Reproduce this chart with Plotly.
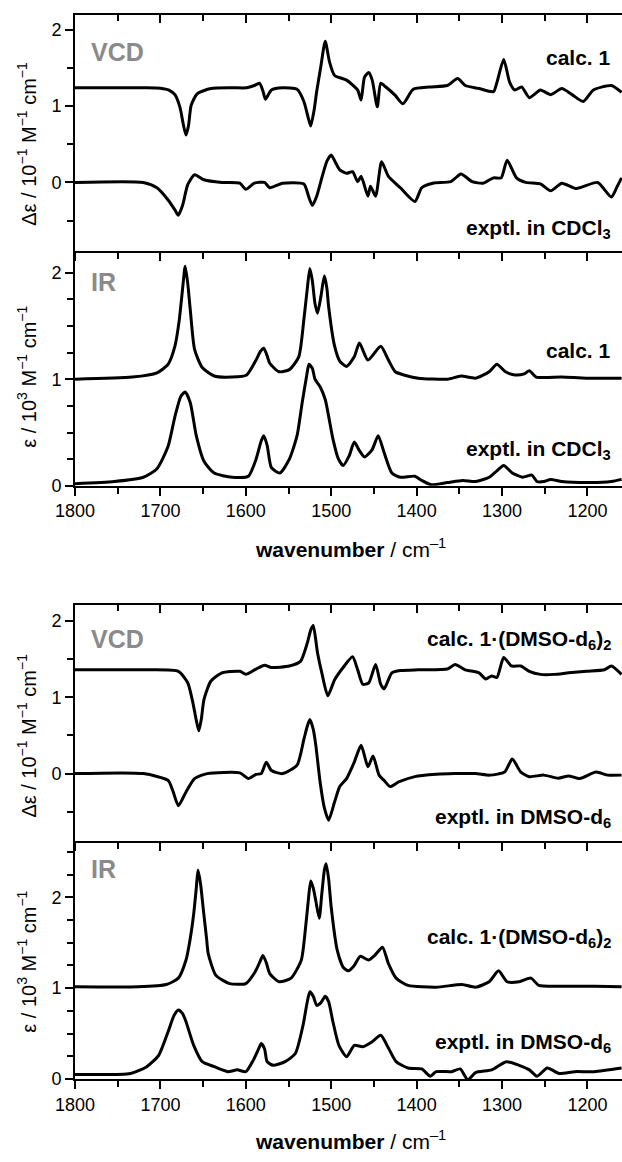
import plotly.graph_objects as go

FONT = "Liberation Sans, Arial, sans-serif"
W, H = 622, 1162
ML = 75

# ---------------- data ----------------
# Panel 1: VCD, calc. 1 (offset) and exptl. in CDCl3
wn_vcd_calc1 = [1800, 1720, 1700, 1690, 1683, 1677, 1673, 1670, 1667, 1664, 1657, 1641, 1616, 1599,
                1590, 1584, 1580, 1577, 1570, 1557, 1540, 1532, 1527, 1524, 1520, 1517, 1512, 1507,
                1502, 1496, 1482, 1469, 1465, 1461, 1456, 1452, 1446, 1442, 1436, 1425, 1416, 1404,
                1385, 1364, 1352, 1343, 1327, 1310, 1306, 1298, 1291, 1285, 1277, 1268, 1255, 1243,
                1230, 1218, 1205, 1193, 1172, 1160]
vcd_calc1 = [1.24, 1.24, 1.235, 1.21, 1.15, 0.98, 0.75, 0.62, 0.75, 1.01, 1.16, 1.23, 1.24, 1.24,
             1.27, 1.30, 1.20, 1.09, 1.21, 1.24, 1.22, 1.06, 0.85, 0.74, 0.95, 1.19, 1.53, 1.85,
             1.58, 1.40, 1.34, 1.21, 1.08, 1.38, 1.44, 1.34, 0.99, 1.30, 1.25, 1.14, 1.03, 1.22,
             1.25, 1.27, 1.36, 1.27, 1.23, 1.19, 1.31, 1.61, 1.31, 1.21, 1.25, 1.11, 1.21, 1.15,
             1.23, 1.15, 1.06, 1.21, 1.27, 1.18]

wn_vcd_cdcl3 = [1800, 1720, 1704, 1691, 1683, 1679, 1674, 1668, 1660, 1649, 1628, 1607, 1600, 1590,
                1578, 1572, 1557, 1532, 1526, 1522, 1517, 1511, 1505, 1500, 1494, 1490, 1482, 1475,
                1469, 1465, 1457, 1454, 1448, 1441, 1433, 1419, 1402, 1394, 1381, 1360, 1348, 1335,
                1322, 1310, 1301, 1294, 1283, 1272, 1255, 1243, 1230, 1213, 1188, 1172, 1165, 1160]
vcd_cdcl3 = [0.00, 0.00, -0.07, -0.23, -0.36, -0.43, -0.30, -0.03, 0.10, 0.035, 0.00, -0.01, -0.09, -0.01,
             0.00, -0.07, -0.01, -0.02, -0.20, -0.30, -0.18, 0.06, 0.28, 0.36, 0.24, 0.165, 0.12, 0.14,
             0.01, 0.08, -0.18, -0.05, -0.18, 0.27, 0.08, -0.07, -0.25, -0.07, -0.01, 0.01, 0.11, 0.01,
             -0.01, 0.06, 0.06, 0.29, 0.06, 0.00, -0.02, -0.11, -0.01, -0.08, 0.00, -0.19, -0.05, 0.06]

# Panel 2: IR, calc. 1 (offset) and exptl. in CDCl3
wn_ir_calc1 = [1800, 1733, 1704, 1691, 1683, 1678, 1674, 1671, 1668, 1665, 1660, 1651, 1637, 1616,
               1599, 1588, 1583, 1579, 1575, 1572, 1561, 1549, 1538, 1532, 1528, 1525, 1522, 1519,
               1516, 1512, 1508, 1505, 1503, 1496, 1490, 1482, 1473, 1467, 1457, 1442, 1433, 1425,
               1415, 1398, 1364, 1348, 1331, 1315, 1306, 1296, 1285, 1274, 1268, 1260, 1230, 1201, 1160]
ir_calc1 = [1.00, 1.02, 1.06, 1.14, 1.31, 1.55, 1.85, 2.06, 1.90, 1.65, 1.28, 1.11, 1.03, 1.02,
            1.04, 1.18, 1.26, 1.29, 1.22, 1.15, 1.07, 1.09, 1.21, 1.56, 1.85, 2.04, 1.92, 1.71,
            1.62, 1.78, 1.97, 1.85, 1.68, 1.31, 1.17, 1.12, 1.21, 1.34, 1.18, 1.31, 1.18, 1.07,
            1.04, 1.01, 1.00, 1.03, 1.01, 1.07, 1.14, 1.07, 1.04, 1.05, 1.08, 1.02, 1.02, 1.01, 1.01]

wn_ir_cdcl3 = [1800, 1754, 1720, 1704, 1691, 1683, 1676, 1671, 1665, 1658, 1649, 1637, 1616, 1597,
               1588, 1582, 1579, 1575, 1570, 1560, 1549, 1540, 1534, 1529, 1526, 1522, 1519, 1513,
               1507, 1498, 1492, 1486, 1479, 1473, 1467, 1461, 1452, 1445, 1438, 1429, 1419, 1402,
               1394, 1383, 1364, 1346, 1331, 1315, 1306, 1298, 1288, 1276, 1265, 1259, 1251, 1243,
               1230, 1197, 1172, 1160]
ir_cdcl3 = [0.02, 0.04, 0.08, 0.16, 0.37, 0.65, 0.84, 0.88, 0.78, 0.47, 0.23, 0.12, 0.08, 0.09,
            0.25, 0.42, 0.47, 0.38, 0.17, 0.12, 0.25, 0.47, 0.78, 1.02, 1.14, 1.10, 1.00, 0.93,
            0.81, 0.44, 0.26, 0.19, 0.28, 0.41, 0.33, 0.27, 0.34, 0.47, 0.31, 0.12, 0.08, 0.09,
            0.05, 0.01, 0.03, 0.05, 0.04, 0.08, 0.14, 0.19, 0.12, 0.08, 0.10, 0.04, 0.04, 0.06,
            0.04, 0.03, 0.04, 0.06]

# Panel 3: VCD, calc. 1·(DMSO-d6)2 (offset) and exptl. in DMSO-d6
wn_vcd_calc1d = [1800, 1720, 1679, 1668, 1662, 1658, 1655, 1652, 1649, 1641, 1628, 1607, 1600, 1588,
                 1578, 1570, 1549, 1536, 1528, 1524, 1521, 1516, 1511, 1504, 1496, 1486, 1475, 1469,
                 1463, 1456, 1448, 1442, 1438, 1429, 1419, 1398, 1364, 1355, 1343, 1327, 1319, 1312,
                 1306, 1298, 1289, 1278, 1268, 1255, 1239, 1222, 1201, 1180, 1172, 1160]
vcd_calc1d = [1.36, 1.36, 1.34, 1.19, 0.93, 0.70, 0.56, 0.72, 0.97, 1.21, 1.32, 1.34, 1.30, 1.37,
              1.42, 1.39, 1.41, 1.47, 1.71, 1.88, 1.94, 1.58, 1.32, 1.02, 1.23, 1.39, 1.53, 1.36,
              1.17, 1.19, 1.43, 1.17, 1.11, 1.32, 1.35, 1.36, 1.37, 1.43, 1.36, 1.32, 1.24, 1.28,
              1.26, 1.52, 1.41, 1.41, 1.34, 1.30, 1.30, 1.32, 1.34, 1.36, 1.41, 1.30]

wn_vcd_dmso = [1800, 1720, 1691, 1685, 1679, 1670, 1660, 1645, 1607, 1597, 1588, 1582, 1576, 1570,
               1557, 1540, 1532, 1528, 1525, 1521, 1518, 1513, 1508, 1503, 1496, 1490, 1482, 1473,
               1465, 1457, 1451, 1444, 1438, 1431, 1421, 1402, 1377, 1356, 1331, 1314, 1297, 1288,
               1278, 1268, 1251, 1234, 1222, 1209, 1190, 1176, 1160]
vcd_dmso = [0.00, 0.00, -0.09, -0.24, -0.42, -0.24, -0.065, 0.00, 0.01, -0.065, -0.01, 0.00, 0.15, 0.04,
            0.00, 0.11, 0.45, 0.62, 0.71, 0.58, 0.37, -0.11, -0.45, -0.61, -0.37, -0.17, -0.065, 0.15,
            0.37, 0.09, 0.23, -0.02, -0.09, -0.17, -0.11, -0.04, -0.01, 0.00, 0.00, -0.02, 0.02, 0.19,
            0.02, -0.04, -0.02, -0.06, -0.03, -0.065, 0.02, -0.02, -0.02]

# Panel 4: IR, calc. 1·(DMSO-d6)2 (offset) and exptl. in DMSO-d6
wn_ir_calc1d = [1800, 1726, 1693, 1679, 1670, 1665, 1661, 1658, 1656, 1653, 1650, 1646, 1644, 1635,
                1619, 1600, 1589, 1583, 1580, 1576, 1572, 1561, 1547, 1535, 1530, 1527, 1524, 1521,
                1518, 1514, 1511, 1508, 1506, 1503, 1500, 1493, 1486, 1480, 1473, 1466, 1456, 1449,
                1440, 1433, 1424, 1410, 1377, 1347, 1331, 1315, 1304, 1294, 1280, 1266, 1257, 1229,
                1192, 1160]
ir_calc1d = [1.015, 1.015, 1.04, 1.11, 1.31, 1.55, 1.82, 2.10, 2.30, 2.15, 1.89, 1.55, 1.38, 1.14,
             1.05, 1.05, 1.18, 1.30, 1.36, 1.28, 1.16, 1.07, 1.11, 1.31, 1.67, 1.95, 2.18, 2.10,
             1.96, 1.77, 2.04, 2.30, 2.37, 2.20, 1.89, 1.42, 1.23, 1.19, 1.25, 1.35, 1.31, 1.36,
             1.45, 1.27, 1.11, 1.03, 1.01, 1.04, 1.01, 1.07, 1.19, 1.07, 1.07, 1.11, 1.03, 1.02,
             1.02, 1.015]

wn_ir_dmso = [1800, 1735, 1716, 1702, 1691, 1684, 1679, 1674, 1670, 1661, 1651, 1637, 1621, 1610,
              1600, 1591, 1585, 1582, 1578, 1575, 1568, 1554, 1542, 1533, 1528, 1525, 1521, 1517,
              1512, 1507, 1503, 1498, 1491, 1482, 1473, 1463, 1452, 1442, 1433, 1424, 1410, 1394,
              1384, 1377, 1359, 1349, 1340, 1331, 1312, 1295, 1280, 1268, 1259, 1247, 1233, 1215,
              1192, 1160]
ir_dmso = [0.05, 0.06, 0.135, 0.26, 0.52, 0.70, 0.76, 0.72, 0.63, 0.37, 0.19, 0.135, 0.08, 0.10,
           0.08, 0.21, 0.33, 0.39, 0.33, 0.19, 0.15, 0.19, 0.28, 0.59, 0.85, 0.96, 0.91, 0.81,
           0.84, 0.91, 0.85, 0.63, 0.37, 0.245, 0.37, 0.355, 0.41, 0.48, 0.34, 0.19, 0.12, 0.11,
           0.03, 0.08, 0.08, 0.11, -0.01, 0.07, 0.10, 0.19, 0.15, 0.10, 0.03, 0.12, 0.06, 0.08,
           0.08, 0.12]

# tick labels
x_ticks = [1800, 1700, 1600, 1500, 1400, 1300, 1200]
y_ticks = [0, 1, 2]

# ---------------- figure ----------------
X_RANGE = [1800, 1159.5]


def ypaper(px):
    return 1 - px / H


def xpaper(px):
    return (px - ML) / (W - ML)


panels = {  # name: (top px, bottom px, y range)
    "y": (15, 253, [-0.896, 2.195]),
    "y2": (253, 490, [0, 2.205]),
    "y3": (610.7, 848.3, [-0.883, 2.203]),
    "y4": (848.3, 1088.3, [0, 2.62]),
}

fig = go.Figure()
line = dict(color="black", width=3, shape="spline", smoothing=0.6)


def add(x, y, xa, ya):
    fig.add_trace(go.Scatter(x=x, y=y, xaxis=xa, yaxis=ya, mode="lines", line=line,
                             showlegend=False, hoverinfo="skip"))


add(wn_vcd_calc1, vcd_calc1, "x", "y")
add(wn_vcd_cdcl3, vcd_cdcl3, "x", "y")
add(wn_ir_calc1, ir_calc1, "x2", "y2")
add(wn_ir_cdcl3, ir_cdcl3, "x2", "y2")
add(wn_vcd_calc1d, vcd_calc1d, "x3", "y3")
add(wn_vcd_dmso, vcd_dmso, "x3", "y3")
add(wn_ir_calc1d, ir_calc1d, "x4", "y4")
add(wn_ir_dmso, ir_dmso, "x4", "y4")
# invisible anchors for the top tick axes
for xa, ya in (("x5", "y"), ("x6", "y3")):
    fig.add_trace(go.Scatter(x=[X_RANGE[0]], y=[0], xaxis=xa, yaxis=ya, mode="markers",
                             marker=dict(opacity=0), showlegend=False, hoverinfo="skip"))

tickfont = dict(family=FONT, size=18, color="black")


def xaxis(anchor, labels, side="bottom", ticks="outside", overlay=None):
    d = dict(range=X_RANGE, domain=[0, 1], anchor=anchor, side=side,
             showline=True, linecolor="black", linewidth=2,
             ticks=ticks, ticklen=8, tickwidth=2, tickcolor="black",
             tickmode="array", tickvals=x_ticks, ticktext=[str(v) for v in x_ticks],
             showticklabels=labels, tickfont=tickfont, showgrid=False, zeroline=False,
             minor=dict(tickmode="array", tickvals=[1750, 1650, 1550, 1450, 1350, 1250, 1150],
                        ticks=ticks, ticklen=6, tickwidth=2, tickcolor="black", showgrid=False))
    if overlay:
        d["overlaying"] = overlay
    return d


def yaxis(name, anchor, minor_step):
    top, bot, rng = panels[name]
    return dict(range=rng, domain=[ypaper(bot), ypaper(top)], anchor=anchor,
                showline=True, linecolor="black", linewidth=2,
                ticks="outside", ticklen=8, tickwidth=2, tickcolor="black",
                tickmode="array", tickvals=y_ticks, ticktext=[str(v) for v in y_ticks],
                tickfont=tickfont, showgrid=False, zeroline=False,
                minor=dict(dtick=minor_step, tick0=0, ticks="outside", ticklen=6, tickwidth=2,
                           tickcolor="black", showgrid=False))


fig.update_layout(
    width=W, height=H, margin=dict(l=ML, r=0, t=0, b=0),
    paper_bgcolor="white", plot_bgcolor="white",
    font=dict(family=FONT, color="black"),
    xaxis=xaxis("y", False),
    xaxis2=xaxis("y2", True),
    xaxis3=xaxis("y3", False),
    xaxis4=xaxis("y4", True),
    xaxis5=xaxis("y", False, side="top", ticks="inside", overlay="x"),
    xaxis6=xaxis("y3", False, side="top", ticks="inside", overlay="x3"),
    yaxis=yaxis("y", "x", 0.5),
    yaxis2=yaxis("y2", "x2", 0.25),
    yaxis3=yaxis("y3", "x3", 0.5),
    yaxis4=yaxis("y4", "x4", 0.25),
)

ann = []
GRAY = "#8a8a8a"


def text(t, x, y, size=21, color="black", xanchor="right", angle=0):
    ann.append(dict(text=t, x=x, y=y, xref="paper", yref="paper", showarrow=False,
                    xanchor=xanchor, yanchor="middle", textangle=angle,
                    font=dict(family=FONT, size=size, color=color)))


RX = xpaper(613)
text("<b>VCD</b>", xpaper(89), ypaper(52), 25, GRAY, "left")
text("<b>calc. 1</b>", RX, ypaper(58))
text("<b>exptl. in CDCl<sub>3</sub></b>", RX, ypaper(231))
text("<b>IR</b>", xpaper(89), ypaper(284), 25, GRAY, "left")
text("<b>calc. 1</b>", RX, ypaper(354))
text("<b>exptl. in CDCl<sub>3</sub></b>", RX, ypaper(454))
text("<b>VCD</b>", xpaper(89), ypaper(645), 25, GRAY, "left")
text("<b>calc. 1·(DMSO-d<sub>6</sub>)<sub>2</sub></b>", RX, ypaper(646))
text("<b>exptl. in DMSO-d<sub>6</sub></b>", RX, ypaper(825))
text("<b>IR</b>", xpaper(89), ypaper(877), 25, GRAY, "left")
text("<b>calc. 1·(DMSO-d<sub>6</sub>)<sub>2</sub></b>", RX, ypaper(946))
text("<b>exptl. in DMSO-d<sub>6</sub></b>", RX, ypaper(1052))

ytitle_vcd = "Δε / 10<sup>−1</sup> M<sup>−1</sup> cm<sup>−1</sup>"
ytitle_ir = "ε / 10<sup>3</sup> M<sup>−1</sup> cm<sup>−1</sup>"
text(ytitle_vcd, xpaper(27), ypaper(145), 20, "black", "center", -90)
text(ytitle_ir, xpaper(27), ypaper(380), 20, "black", "center", -90)
text(ytitle_vcd, xpaper(27), ypaper(742), 20, "black", "center", -90)
text(ytitle_ir, xpaper(27), ypaper(970), 20, "black", "center", -90)

xtitle = "<b>wavenumber</b> / cm<sup>–1</sup>"
text(xtitle, xpaper(350), ypaper(553), 21, "black", "center")
text(xtitle, xpaper(350), ypaper(1150), 21, "black", "center")

fig.update_layout(annotations=ann)
fig.write_html("out.html", config={"displayModeBar": False},
               post_script="document.body.style.margin='0';document.body.style.overflow='hidden';")
